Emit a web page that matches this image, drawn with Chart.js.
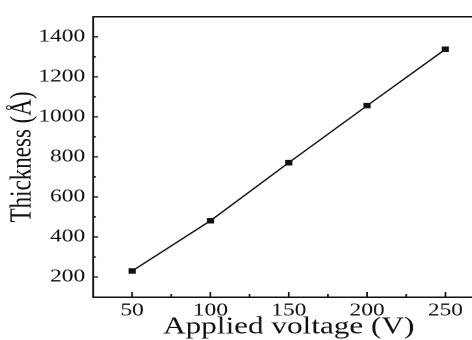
<!DOCTYPE html>
<html>
<head>
<meta charset="utf-8">
<script src="https://cdn.jsdelivr.net/npm/chart.js@4/dist/chart.umd.min.js"></script>
<style>
  html, body { margin: 0; padding: 0; background: #fff; overflow: hidden; }
  /* the reference figure is stretched sideways, so draw narrow and stretch */
  #wrap { position: absolute; left: 0; top: 0; width: 378px; height: 340px;
          transform: scaleX(1.3); transform-origin: 0 0; }
</style>
</head>
<body>
<div id="wrap"><canvas id="grafico" width="378" height="340"></canvas></div>
<script>
// dados
const voltagem = [50, 100, 150, 200, 250];
const espessura = [230, 481, 771, 1056, 1338];

const xTicks = [50, 100, 150, 200, 250];
const xMinor = [75, 125, 175, 225];
const yTicks = [200, 400, 600, 800, 1000, 1200, 1400];
const yMinor = [300, 500, 700, 900, 1100, 1300];

const fonte = "'Liberation Serif', 'Times New Roman', serif";

// ticks para dentro + linha de cima
const ticksDentro = {
    id: 'ticksDentro',
    afterDraw(chart) {
        const ctx = chart.ctx;
        const area = chart.chartArea;
        const sx = chart.scales.x;
        const sy = chart.scales.y;
        ctx.save();
        ctx.strokeStyle = '#111';
        ctx.lineWidth = 1.3;
        ctx.beginPath();
        xTicks.forEach(v => { const p = sx.getPixelForValue(v); ctx.moveTo(p, area.bottom); ctx.lineTo(p, area.bottom - 5); });
        xMinor.forEach(v => { const p = sx.getPixelForValue(v); ctx.moveTo(p, area.bottom); ctx.lineTo(p, area.bottom - 3); });
        yTicks.forEach(v => { const p = sy.getPixelForValue(v); ctx.moveTo(area.left, p); ctx.lineTo(area.left + 4, p); });
        yMinor.forEach(v => { const p = sy.getPixelForValue(v); ctx.moveTo(area.left, p); ctx.lineTo(area.left + 2.5, p); });
        ctx.stroke();
        ctx.lineWidth = 1.5;
        ctx.beginPath();
        ctx.moveTo(area.left, area.top);
        ctx.lineTo(chart.width, area.top);
        ctx.stroke();
        ctx.restore();
    }
};

new Chart(document.getElementById('grafico'), {
    type: 'line',
    data: {
        datasets: [{
            data: voltagem.map((v, i) => ({ x: v, y: espessura[i] })),
            borderColor: '#111',
            backgroundColor: '#111',
            borderWidth: 1.3,
            pointStyle: 'rect',
            pointRadius: 3,
            tension: 0
        }]
    },
    options: {
        responsive: false,
        devicePixelRatio: 2,
        animation: false,
        layout: { padding: { top: 14, left: 0, right: 4, bottom: 0 } },
        plugins: { legend: { display: false }, tooltip: { enabled: false } },
        scales: {
            x: {
                type: 'linear',
                min: 25,
                max: 275,
                afterBuildTicks: s => { s.ticks = xTicks.map(v => ({ value: v })); },
                afterFit: s => { s.height = 43; },
                grid: { drawOnChartArea: false, drawTicks: false },
                border: { display: true, color: '#111', width: 1.5 },
                ticks: { color: '#111', padding: 3, font: { family: fonte, size: 18 }, callback: v => String(v) },
                title: {
                    display: true,
                    text: 'Applied voltage (V)',
                    color: '#111',
                    font: { family: fonte, size: 24, lineHeight: 1 },
                    padding: { top: 0, bottom: 1 }
                }
            },
            y: {
                min: 100,
                max: 1500,
                afterBuildTicks: s => { s.ticks = yTicks.map(v => ({ value: v })); },
                afterFit: s => { s.width = 71.5; },
                grid: { drawOnChartArea: false, drawTicks: false },
                border: { display: true, color: '#111', width: 1.5 },
                ticks: { color: '#111', padding: 6, font: { family: fonte, size: 18 }, callback: v => String(v) },
                title: {
                    display: true,
                    text: 'Thickness (Å)',
                    color: '#111',
                    font: { family: fonte, size: 23, lineHeight: 1 },
                    padding: { top: 6, bottom: 0 }
                }
            }
        }
    },
    plugins: [ticksDentro]
});
</script>
</body>
</html>
